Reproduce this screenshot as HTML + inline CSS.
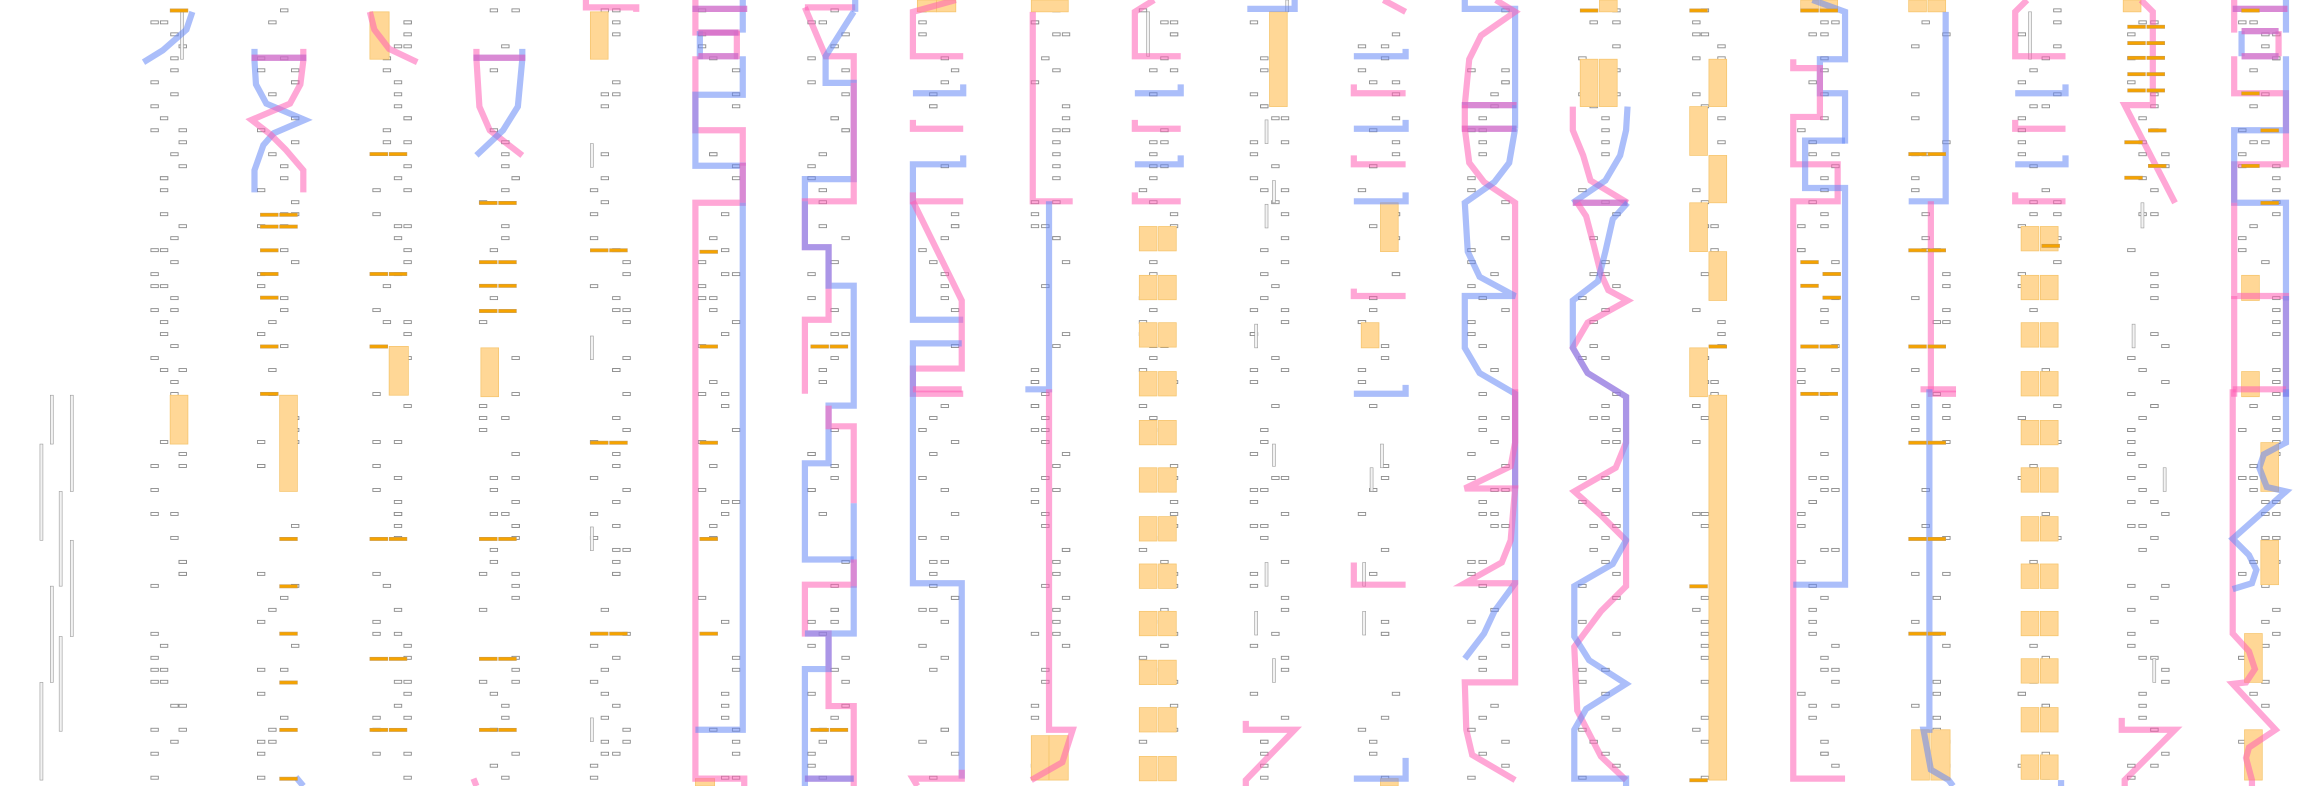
<!DOCTYPE html>
<html><head><meta charset="utf-8"><style>
html,body{margin:0;padding:0;background:#fff;}
svg{display:block;}
</style></head><body>
<svg id="s" width="2320" height="786" viewBox="0 0 1568 531" preserveAspectRatio="none" xmlns="http://www.w3.org/2000/svg">
<rect width="1568" height="531" fill="#fff"/>
<g id="g0"></g><g id="g1"></g><g id="g2"></g><g id="g3"></g>
</svg>
<script>
var NS="http://www.w3.org/2000/svg";
function el(g,tag,a){var e=document.createElementNS(NS,tag);for(var k in a)e.setAttribute(k,a[k]);document.getElementById(g).appendChild(e);return e;}
function pl(pts,c){el('g2','polyline',{points:pts.map(function(p){return p.join(',')}).join(' '),fill:'none',stroke:c,'stroke-width':4.2,'stroke-opacity':0.55,'stroke-linejoin':'miter'});}
function P(p){pl(p,'#ff5fb4');}
function B(p){pl(p,'#6688f5');}
function blk(x,y,w,h){el('g1','rect',{x:x,y:y,width:w,height:h,fill:'#ffd796',stroke:'#f5c46c','stroke-width':0.5});}
function tick(x,y){el('g3','rect',{x:x,y:y-1,width:12,height:2.2,fill:'#f5a300',stroke:'#c89a50','stroke-width':0.4});}
function dt(x,y){tick(x,y);tick(x+13,y);}
function dbl(x,y1,y2){el('g0','rect',{x:x,y:y1,width:2,height:y2-y1,fill:'#f2f2f2',stroke:'#999','stroke-width':0.4});}
function dblk(x,y,h){blk(x,y,12,h);blk(x+13,y,12,h);}

// markers
var cols=[[100,128],[172,204],[250,280],[322,353],[397,428],[470,502],[544,576],[619,650],[695,725],[768,798],[843,873],[916,948],[990,1022],[1065,1097],[1142,1168],[1213,1245],[1290,1320],[1362,1395],[1436,1468],[1511,1543]];
var seed=7;function rnd(){seed=(seed*16807)%2147483647;return seed/2147483647;}
cols.forEach(function(c,ci){
 for(var k=0;k<65;k++){
  var y=7+8.1*k; var r=rnd();
  if(r<0.25)continue;
  var w=c[1]-c[0]; var pos=[c[0]+2,c[0]+w*0.3,c[0]+w*0.55,c[1]-7];
  var n=r>0.85?2:1;
  for(var j=0;j<n;j++){var x=pos[Math.floor(rnd()*4)];
   el('g0','rect',{x:x,y:y-1,width:5,height:2,fill:'#fff',stroke:'#8a8a8a','stroke-width':0.6});}
 }
});
// far-left gray doubles
dbl(27,300,365);dbl(27,461,527);dbl(34,267,300);dbl(34,396,461);dbl(40,332,396);dbl(40,430,494);dbl(47.5,267,332);dbl(47.5,365,430);

// C1
tick(115,7);dbl(122,8,40);B([[130,8],[126,20],[110,34],[97,42]]);blk(115,267,12,33);
// C2
B([[172,33],[172,41],[173,57],[180,70],[206,81],[185,90],[178,98],[172,115],[172,130]]);
P([[205,33],[205,41],[203,57],[196,70],[170,81],[183,91],[193,101],[205,115],[205,130]]);
B([[170,39],[207,39]]);P([[170,39],[207,39]]);
dt(176,145);dt(176,153);[169,185,201,234,266].forEach(function(y){tick(176,y)});
[364,396,428,461,493,526].forEach(function(y){tick(189,y)});
blk(189,267,12,65);B([[200,525],[205,531]]);
// C3
blk(250,8,13,32);P([[250,8],[253,20],[263,33],[282,42]]);dt(250,104);dt(250,185);tick(250,234);blk(263,234,13,33);
dt(250,364);dt(250,445);dt(250,493);
// C4
P([[322,33],[322,40],[324,72],[331,88],[353,105]]);B([[353,33],[353,40],[350,72],[340,88],[322,105]]);
B([[320,39],[355,39]]);P([[320,39],[355,39]]);
dt(324,137);dt(324,177);dt(324,193);dt(324,210);blk(325,235,12,33);dt(324,364);dt(324,445);dt(324,493);P([[320,526],[322,531]]);
// C5
P([[396,0],[396,5],[430,5],[430,8]]);blk(399,8,12,32);dbl(399,97,113);dbl(399,227,243);dbl(399,485,501);dbl(399,356,372);
dt(399,169);dt(399,299);dt(399,428);
// C6
P([[470,0],[470,22],[500,22]]);B([[502,0],[502,22]]);B([[468,6],[505,6]]);P([[468,6],[505,6]]);
B([[473,21],[473,40]]);P([[498,21],[498,40]]);B([[472,22],[499,22]]);P([[472,22],[499,22]]);B([[472,38],[499,38]]);P([[472,38],[499,38]]);
P([[470,38],[470,88],[502,88],[502,112]]);B([[502,38],[502,64],[470,64],[470,112],[502,112],[502,137]]);P([[502,110],[502,137],[470,137],[470,526],[503,526],[503,531]]);
B([[502,137],[502,493],[470,493]]);blk(470,526,13,5);
[170,234,299,364,428].forEach(function(y){tick(473,y)});
// C7
P([[544,5],[578,5]]);B([[578,0],[578,8]]);P([[544,5],[558,38],[577,38],[577,56]]);B([[577,8],[558,38],[558,56],[577,56],[577,121],[544,121],[544,136]]);
P([[577,56],[577,136],[544,136],[544,167],[560,167],[560,216],[544,216],[544,266]]);B([[544,136],[544,167],[560,167],[560,193],[577,193],[577,274],[560,274],[560,290]]);
P([[560,274],[560,288],[577,288],[577,340]]);B([[577,340],[577,396]]);B([[560,290],[560,313],[544,313],[544,378],[577,378]]);
P([[577,378],[577,395],[544,395],[544,428],[560,428],[560,477],[577,477],[577,531]]);B([[577,396],[577,428],[544,428],[560,428],[560,452],[544,452],[544,531]]);
P([[544,526],[577,526]]);B([[544,526],[577,526]]);dt(548,234);dt(548,493);
// C8
blk(620,0,13,8);blk(633,0,13,8);P([[646,0],[617,8],[617,38],[651,38]]);B([[651,57],[651,63],[617,63]]);P([[617,81],[617,87],[651,87]]);
B([[651,105],[651,111],[617,111],[617,216],[651,216]]);P([[617,130],[617,136],[651,136]]);P([[617,136],[650,203],[650,249],[617,249],[617,266],[651,266]]);
B([[650,232],[617,232],[617,394],[650,394],[650,526]]);P([[617,263],[650,263]]);P([[650,520],[650,526],[617,526],[620,531]]);
// C9
blk(697,0,25,8);P([[698,8],[698,136],[725,136]]);B([[709,136],[709,263],[693,263]]);P([[709,263],[709,493],[725,493],[718,515],[697,527]]);
blk(697,497,12,30);blk(709,497,13,30);
// C10
P([[780,0],[767,8],[767,38],[798,38]]);dbl(775,8,38);B([[798,57],[798,63],[767,63]]);P([[767,81],[767,87],[798,87]]);B([[798,105],[798,111],[767,111]]);P([[767,130],[767,136],[798,136]]);
[153,186,218,251,284,316,349,381,413,446,478,511].forEach(function(y){dblk(770,y,16.5)});
// C11
B([[843,6],[875,6],[875,0]]);dbl(869,0,8);blk(858,8,12,64);dbl(855,81,97);dbl(860,122,137);dbl(855,138,154);dbl(848,219,235);
dbl(860,300,315);dbl(855,380,396);dbl(848,413,429);dbl(860,445,461);
P([[842,487],[842,493],[875,493],[842,527],[842,531]]);
// C12
P([[935,0],[950,8]]);B([[950,33],[950,38],[915,38]]);P([[915,57],[915,63],[950,63]]);B([[950,81],[950,87],[915,87]]);P([[915,105],[915,111],[950,111]]);B([[950,130],[950,136],[915,136]]);
blk(933,137,12,33);P([[915,195],[915,200],[950,200]]);blk(920,218,12,17);B([[950,260],[950,266],[915,266]]);
P([[915,380],[915,395],[950,395]]);B([[950,512],[950,526],[915,526]]);blk(933,526,12,5);dbl(926,316,332);dbl(933,300,316);dbl(921,413,429);dbl(921,380,396);
// C13
B([[990,0],[990,6],[1024,6],[1024,71]]);P([[1011,0],[1024,8],[1001,24],[993,40],[990,71]]);
B([[988,71],[1025,71]]);P([[988,71],[1025,71]]);B([[988,87],[1025,87]]);P([[988,87],[1025,87]]);P([[990,71],[990,87]]);B([[1024,71],[1024,87]]);
P([[990,87],[993,110],[1003,123],[1024,137],[1024,330]]);B([[1024,87],[1020,110],[1010,123],[990,137],[992,170],[1000,187],[1024,200],[990,200],[990,235],[1000,252],[1024,266],[1024,394],[1010,413],[1003,428],[990,445]]);
P([[1024,263],[1024,299],[1021,315],[990,330],[1024,330],[1021,365],[1015,380],[990,394],[1024,394],[1024,461],[990,461],[991,493],[995,510],[1024,527]]);
// C14
tick(1068,7);blk(1081,0,12,8);blk(1068,40,12,32);blk(1081,40,12,32);
P([[1063,72],[1063,88],[1070,105],[1075,122],[1100,137]]);B([[1100,72],[1099,88],[1095,105],[1085,122],[1063,137]]);
B([[1063,137],[1100,137]]);P([[1063,137],[1100,137]]);
P([[1066,137],[1072,146],[1077,165],[1082,185],[1087,196],[1100,203],[1073,218],[1063,235],[1073,252],[1099,268],[1099,299],[1092,316],[1064,332],[1082,348],[1099,365],[1099,396],[1082,413],[1064,437],[1066,480],[1082,511],[1099,527]]);
B([[1100,137],[1090,148],[1085,170],[1080,190],[1063,203],[1063,235],[1073,252],[1099,268],[1099,365],[1090,381],[1064,396],[1064,430],[1074,446],[1099,462],[1072,479],[1064,493],[1064,526],[1099,526],[1099,531]]);
// C15
blk(1155,40,12,32);blk(1142,72,12,33);blk(1155,105,12,32);blk(1142,137,12,33);blk(1155,170,12,33);blk(1142,235,12,33);blk(1155,267,12,260);
tick(1155,234);tick(1142,396);tick(1142,527);tick(1142,7);
// C16
dblk(1217,0,8);B([[1225,0],[1247,8],[1247,40],[1230,40],[1230,63],[1247,63],[1247,97]]);P([[1212,40],[1212,46],[1230,46],[1230,79],[1212,79],[1212,111],[1242,111],[1242,136],[1212,136],[1212,526],[1247,526]]);
B([[1247,95],[1220,95],[1220,127],[1247,127],[1247,395],[1212,395]]);
[177,193].forEach(function(y){tick(1217,y)});[185,201].forEach(function(y){tick(1232,y)});dt(1217,234);dt(1217,266);dt(1217,7);
// C17
blk(1290,0,12,8);blk(1303,0,12,8);B([[1315,8],[1315,136],[1290,136]]);P([[1305,136],[1305,266],[1322,266]]);P([[1298,263],[1322,263]]);
dt(1290,104);dt(1290,169);dt(1290,234);dt(1290,299);dt(1290,364);dt(1290,428);
B([[1304,263],[1304,493],[1300,493],[1305,520],[1317,527],[1320,531]]);blk(1292,493,12,34);blk(1305,493,13,34);
// C18
P([[1370,0],[1362,8],[1362,38],[1396,38]]);dbl(1371,8,40);B([[1396,57],[1396,63],[1362,63]]);P([[1362,81],[1362,87],[1396,87]]);B([[1396,105],[1396,111],[1362,111]]);P([[1362,130],[1362,136],[1396,136]]);tick(1380,166);
[153,186,218,251,284,316,349,381,413,445,478,510].forEach(function(y){dblk(1366,y,16.5)});B([[1393,527],[1393,531]]);
// C19
blk(1435,0,12,8);P([[1447,0],[1455,8],[1455,71],[1436,71],[1470,137]]);
[18,29,39,50,61].forEach(function(y){dt(1438,y)});tick(1452,88);tick(1436,96);tick(1452,112);tick(1436,120);
dbl(1447,137,154);dbl(1462,316,332);dbl(1455,445,461);dbl(1441,219,235);
P([[1434,485],[1434,493],[1470,493],[1436,527],[1436,531]]);
// C20
P([[1510,0],[1510,22]]);B([[1545,0],[1545,22]]);B([[1509,6],[1546,6]]);P([[1509,6],[1546,6]]);
B([[1515,21],[1515,38]]);P([[1540,21],[1540,38]]);B([[1515,21],[1540,21]]);P([[1515,21],[1540,21]]);B([[1515,38],[1540,38]]);P([[1515,38],[1540,38]]);
P([[1510,38],[1510,63],[1545,63],[1545,111],[1510,111],[1510,137]]);B([[1545,38],[1545,88],[1510,88],[1510,137],[1545,137],[1545,203]]);
P([[1510,137],[1510,200],[1545,200],[1545,268]]);B([[1545,200],[1545,268]]);P([[1510,200],[1510,268]]);
blk(1515,186,12,17);blk(1515,251,12,17);tick(1515,7);tick(1528,88);tick(1515,112);tick(1528,137);tick(1515,63);
P([[1509,263],[1545,263]]);P([[1509,263],[1509,428],[1520,440],[1524,452],[1518,461],[1509,462],[1538,493],[1520,505],[1518,512],[1522,527],[1522,531]]);
B([[1545,263],[1545,299],[1530,307],[1527,316],[1532,329],[1545,332],[1509,364],[1520,375],[1525,385],[1522,394],[1509,398]]);
blk(1528,299,12,33);blk(1528,365,12,30);blk(1517,428,12,33);blk(1517,493,12,34);
</script>
</body></html>
